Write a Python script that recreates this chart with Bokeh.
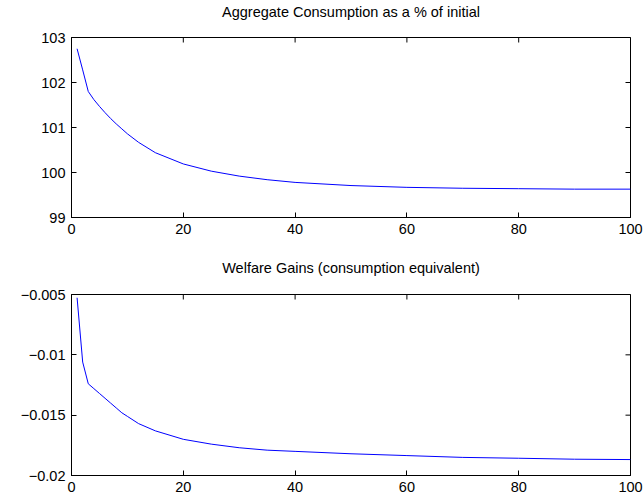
import math
from bokeh.plotting import figure
from bokeh.layouts import column
from bokeh.models import FixedTicker, Range1d, Title, LinearAxis
from bokeh.embed import file_html
from bokeh.resources import INLINE

# ---- data ----
periods = [1, 2, 3, 4, 5, 6, 7, 8, 9, 10, 12, 15, 20, 25, 30, 35, 40, 50, 60, 70, 80, 90, 100]
consumption = [102.75, 102.28, 101.80, 101.62, 101.47, 101.33, 101.20, 101.08, 100.97,
               100.86, 100.67, 100.44, 100.19, 100.03, 99.92, 99.84, 99.78, 99.71, 99.67,
               99.65, 99.64, 99.63, 99.63]
welfare = [-0.00527, -0.0106, -0.0124, -0.0128, -0.0132, -0.0136, -0.0140, -0.0144, -0.0148,
           -0.0151, -0.0157, -0.0163, -0.0170, -0.0174, -0.0177, -0.0179, -0.0180, -0.0182,
           -0.01835, -0.0185, -0.01857, -0.01865, -0.01868]

x_ticks = [0, 20, 40, 60, 80, 100]
top_ticks = [99, 100, 101, 102, 103]
bot_ticks = [-0.02, -0.015, -0.01, -0.005]
bot_tick_labels = ["\u22120.02", "\u22120.015", "\u22120.01", "\u22120.005"]

title_top = "Aggregate Consumption as a % of initial"
title_bot = "Welfare Gains (consumption equivalent)"

FONT = "Liberation Sans"
FS = "14.5px"


def style_axis(ax, ticks, overrides=None):
    ax.ticker = FixedTicker(ticks=ticks)
    ax.minor_tick_line_color = None
    ax.major_tick_in = 5
    ax.major_tick_out = 0
    ax.axis_line_color = "black"
    ax.axis_line_width = 1
    ax.major_tick_line_color = "black"
    ax.major_tick_line_width = 1
    ax.major_label_text_font = FONT
    ax.major_label_text_color = "black"
    ax.major_label_text_font_size = FS
    ax.major_label_standoff = 6
    if overrides:
        ax.major_label_overrides = overrides


def make(title, xs, ys, yr, yticks, top, bottom, frame_h, spacer, title_standoff,
         overrides=None):
    p = figure(width=644, height=top + frame_h + bottom, title=None,
               x_range=Range1d(0, 100), y_range=Range1d(*yr),
               output_backend="svg", toolbar_location=None,
               min_border_left=71, min_border_right=14,
               min_border_top=top, min_border_bottom=bottom)
    p.xgrid.visible = False
    p.ygrid.visible = False
    p.outline_line_color = "black"
    p.outline_line_width = 1
    style_axis(p.xaxis[0], x_ticks)
    style_axis(p.yaxis[0], yticks, overrides=overrides)
    # invisible spacer between the frame and the title
    gap = LinearAxis(ticker=FixedTicker(ticks=[50]), major_tick_out=spacer, major_tick_in=0,
                     major_tick_line_color=None, minor_tick_line_color=None,
                     axis_line_color=None, major_label_standoff=0,
                     major_label_text_font_size="0px")
    p.add_layout(gap, "above")
    p.add_layout(Title(text=title, align="center", vertical_align="top",
                       standoff=title_standoff, text_font=FONT, text_font_size=FS,
                       text_font_style="normal", text_color="black"), "above")
    # mirrored inward ticks on the top and right edges (clipped to the frame)
    p.scatter(x_ticks, [yr[1]] * len(x_ticks), marker="dash", size=10,
              angle=math.pi / 2, line_color="black", line_width=1)
    p.scatter([100] * len(yticks), yticks, marker="dash", size=10,
              line_color="black", line_width=1)
    p.line(xs, ys, line_color="#0000ff", line_width=1)
    p.background_fill_color = "white"
    p.border_fill_color = "white"
    return p


p1 = make(title_top, periods, consumption, (99, 103), top_ticks, 37, 40, 180, 14, 3)
p2 = make(title_bot, periods, welfare, (-0.02, -0.005), bot_ticks, 37, 25, 181, 17, 0,
          overrides={t: l for t, l in zip(bot_ticks, bot_tick_labels)})

layout = column(p1, p2, spacing=0)
open("out.html", "w").write(file_html(layout, INLINE))
